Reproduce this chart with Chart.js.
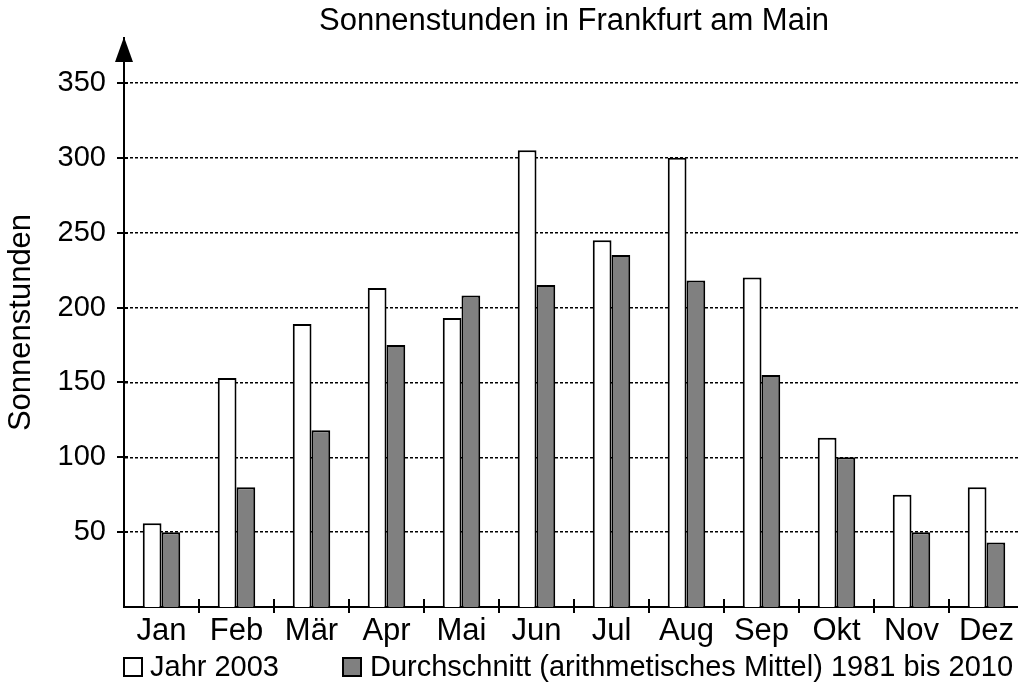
<!DOCTYPE html>
<html>
<head>
<meta charset="utf-8">
<script src="https://cdn.jsdelivr.net/npm/chart.js@4/dist/chart.umd.min.js"></script>
<style>
  html, body { margin: 0; padding: 0; background: #fff; overflow: hidden; width: 1018px; height: 696px; }
  #wrap { position: absolute; left: 0; top: 0; width: 1040px; height: 696px; }
</style>
</head>
<body>
<div id="wrap"><canvas id="c" width="1040" height="696"></canvas></div>
<script>
const months = ['Jan', 'Feb', 'Mär', 'Apr', 'Mai', 'Jun', 'Jul', 'Aug', 'Sep', 'Okt', 'Nov', 'Dez'];
const sun2003 = [56, 153, 189, 213, 193, 305, 245, 300, 220, 113, 75, 80];
const sunAvg = [50, 80, 118, 175, 208, 215, 235, 218, 155, 100, 50, 43];
const yTickValues = [50, 100, 150, 200, 250, 300, 350];
const seriesNames = ['Jahr 2003', 'Durchschnitt (arithmetisches Mittel) 1981 bis 2010'];
const chartTitle = 'Sonnenstunden in Frankfurt am Main';
const yAxisTitle = 'Sonnenstunden';

const FONT = '"Liberation Sans", Arial, Helvetica, sans-serif';

const decor = {
  id: 'decor',
  afterDraw(chart) {
    const ctx = chart.ctx;
    const a = chart.chartArea;
    const xs = chart.scales.x, ys = chart.scales.y;
    ctx.save();
    ctx.strokeStyle = '#000';
    ctx.fillStyle = '#000';
    ctx.lineWidth = 2;
    // y tick marks
    ys.ticks.forEach(t => {
      const y = Math.round(ys.getPixelForValue(t.value));
      ctx.beginPath();
      ctx.moveTo(a.left - 7, y);
      ctx.lineTo(a.left + 4, y);
      ctx.stroke();
    });
    // x tick marks between categories
    for (let i = 1; i < months.length; i++) {
      const x = Math.round((xs.getPixelForValue(i - 1) + xs.getPixelForValue(i)) / 2);
      ctx.beginPath();
      ctx.moveTo(x, a.bottom - 8);
      ctx.lineTo(x, a.bottom + 6);
      ctx.stroke();
    }
    // arrow on y axis
    ctx.beginPath();
    ctx.moveTo(a.left, a.top - 1);
    ctx.lineTo(a.left - 9, a.top + 24);
    ctx.lineTo(a.left + 9, a.top + 24);
    ctx.closePath();
    ctx.fill();
    // title
    ctx.font = '31px ' + FONT;
    ctx.textAlign = 'center';
    ctx.textBaseline = 'middle';
    ctx.fillText(chartTitle, (a.left + a.right) / 2, 21);
    // legend
    ctx.font = '29px ' + FONT;
    ctx.textAlign = 'left';
    const ly = 667;
    const items = [
      { x: 124, tx: 150, ds: chart.data.datasets[0] },
      { x: 343, tx: 370, ds: chart.data.datasets[1] }
    ];
    items.forEach(it => {
      ctx.fillStyle = it.ds.backgroundColor;
      ctx.fillRect(it.x, ly - 9, 18, 18);
      ctx.lineWidth = 2;
      ctx.strokeStyle = '#000';
      ctx.strokeRect(it.x, ly - 9, 18, 18);
      ctx.fillStyle = '#000';
      ctx.fillText(it.ds.label, it.tx, ly + 1);
    });
    ctx.restore();
  }
};

new Chart(document.getElementById('c'), {
  type: 'bar',
  data: {
    labels: months,
    datasets: [
      { label: seriesNames[0], data: sun2003, backgroundColor: '#ffffff', borderColor: '#000000', borderWidth: 2 },
      { label: seriesNames[1], data: sunAvg, backgroundColor: '#808080', borderColor: '#000000', borderWidth: 2 }
    ]
  },
  options: {
    responsive: false,
    animation: false,
    devicePixelRatio: 1,
    categoryPercentage: 0.5,
    barPercentage: 1.0,
    layout: { padding: { left: 0, right: 16, top: 38, bottom: 39 } },
    plugins: { legend: { display: false }, title: { display: false }, tooltip: { enabled: false } },
    scales: {
      x: {
        grid: { display: false, drawTicks: false },
        border: { display: true, color: '#000', width: 2 },
        ticks: { color: '#000', font: { family: FONT, size: 31 }, padding: 6, maxRotation: 0, autoSkip: false },
        afterFit: s => { s.height = 50; }
      },
      y: {
        min: 0,
        max: 380,
        afterBuildTicks: s => { s.ticks = yTickValues.map(v => ({ value: v })); },
        grid: { color: '#000', lineWidth: 1.5, drawTicks: false },
        border: { display: true, color: '#000', width: 2, dash: [3, 2] },
        ticks: { color: '#000', font: { family: FONT, size: 29 }, padding: 18 },
        title: { display: true, text: yAxisTitle, color: '#000', font: { family: FONT, size: 31 }, padding: { top: 3, bottom: 0 } },
        afterFit: s => { s.width = 124; }
      }
    }
  },
  plugins: [decor]
});
</script>
</body>
</html>
